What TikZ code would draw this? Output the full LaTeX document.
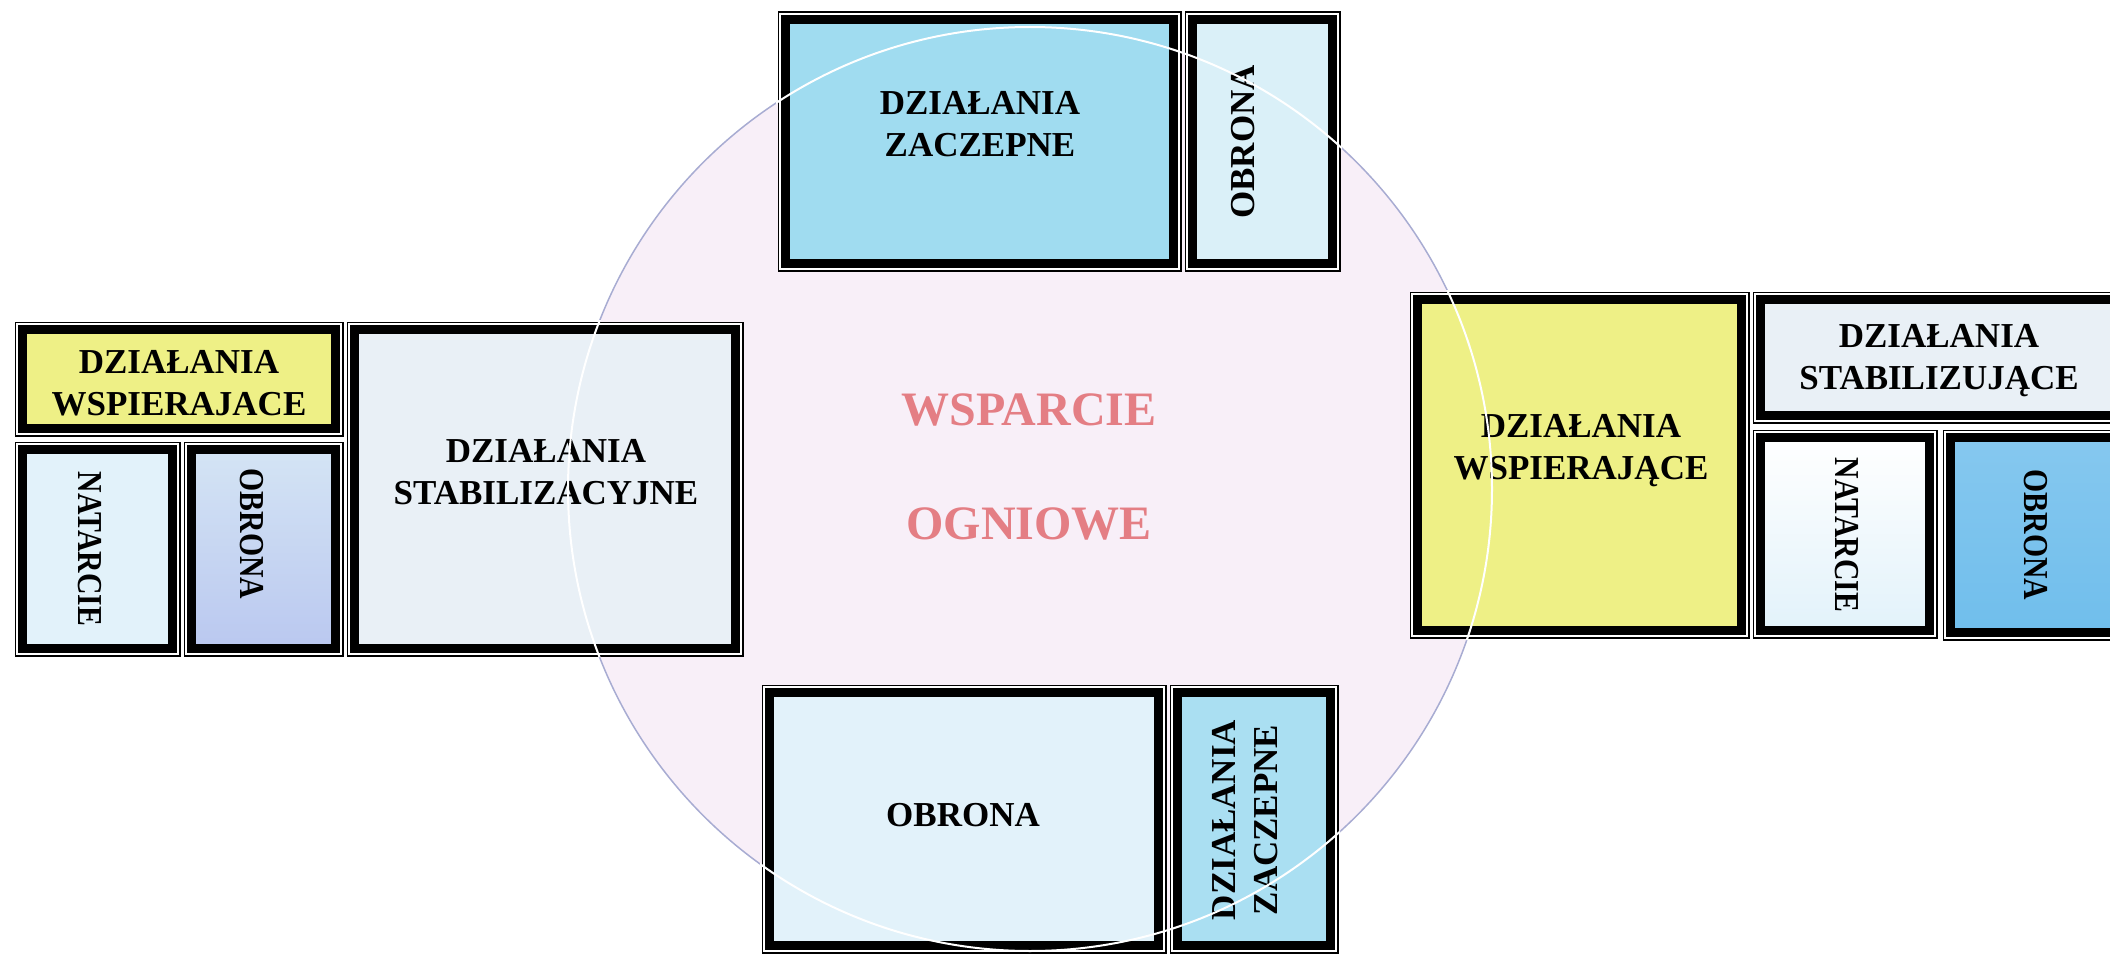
\documentclass[tikz,border=0pt]{standalone}
\usepackage{fontspec}
\setmainfont{Liberation Serif}

\definecolor{ringfill}{RGB}{248,239,248}
\definecolor{ringline}{RGB}{168,172,210}
\definecolor{firepink}{RGB}{228,126,132}
\definecolor{offcyan}{RGB}{160,220,240}
\definecolor{paleblue}{RGB}{226,242,250}
\definecolor{topblue}{RGB}{218,240,248}
\definecolor{supyellow}{RGB}{238,240,134}
\definecolor{stabgrey}{RGB}{233,240,246}
\definecolor{defblue}{RGB}{112,190,236}
\definecolor{lavtop}{RGB}{212,228,244}
\definecolor{lavbot}{RGB}{186,200,240}

\begin{document}
\begin{tikzpicture}[x=1pt, y=-1pt,
    boxline/.style={draw=black, line width=9pt,
        preaction={draw=black, line width=16pt},
        preaction={draw=white, line width=13pt}},
    boxtext/.style={font=\fontsize{35}{42}\selectfont\bfseries, align=center, inner sep=0pt},
    slimtext/.style={boxtext, rotate=-90},
    firetext/.style={font=\fontsize{48}{56}\selectfont\bfseries, text=firepink, inner sep=0pt}]

    \useasboundingbox (0,0) rectangle (2110,955);
    \clip (0,0) rectangle (2110,955);

    % Fire support circle
    \draw[fill=ringfill, draw=ringline, line width=1.5pt] (1030,489) circle[radius=462];

    % Top
    \draw[boxline, fill=offcyan] (785.5,19.5) rectangle (1173.5,263.5);
    \draw[boxline, fill=topblue] (1192.5,19.5) rectangle (1332.5,263.5);
    \node[boxtext] (zaczTop) at (980,124) {DZIAŁANIA\\ZACZEPNE};
    \node[boxtext, rotate=90] (obrTop) at (1243,142) {OBRONA};

    % Left
    \draw[boxline, fill=supyellow] (22.5,329.5) rectangle (335.5,428.5);
    \draw[boxline, fill=paleblue] (22.5,449.5) rectangle (172.5,648.5);
    \draw[boxline, top color=lavtop, bottom color=lavbot] (191.5,449.5) rectangle (335.5,648.5);
    \draw[boxline, fill=stabgrey] (354.5,329.5) rectangle (735.5,648.5);
    \node[boxtext] (wspLeft) at (179,383) {DZIAŁANIA\\WSPIERAJACE};
    \node[slimtext] (natLeft) at (90,549) {\scalebox{0.85}[1]{NATARCIE}};
    \node[slimtext] (obrLeft) at (252,534) {\scalebox{0.85}[1]{OBRONA}};
    \node[boxtext] (stabLeft) at (546,472) {DZIAŁANIA\\STABILIZACYJNE};

    % Right
    \draw[boxline, fill=supyellow] (1417.5,299.5) rectangle (1741.5,630.5);
    \draw[boxline, fill=stabgrey] (1760.5,299.5) rectangle (2117.5,415.5);
    \draw[boxline, top color=white, bottom color=paleblue] (1760.5,437.5) rectangle (1929.5,630.5);
    \draw[boxline, top color=defblue!85, bottom color=defblue] (1950.5,437.5) rectangle (2117.5,632.5);
    \node[boxtext] (wspRight) at (1581,451) {DZIAŁANIA\\WSPIERAJĄCE};
    \node[boxtext] (stabRight) at (1939,361) {DZIAŁANIA\\STABILIZUJĄCE};
    \node[slimtext] (natRight) at (1847,535) {\scalebox{0.85}[1]{NATARCIE}};
    \node[slimtext] (obrRight) at (2036,535) {\scalebox{0.85}[1]{OBRONA}};

    % Bottom
    \draw[boxline, fill=paleblue] (769.5,692.5) rectangle (1158.5,945.5);
    \draw[boxline, fill=offcyan!90] (1177.5,692.5) rectangle (1330.5,945.5);
    \node[boxtext] (obrBottom) at (963,815) {OBRONA};
    \node[boxtext, rotate=90] (zaczBottom) at (1245,820) {DZIAŁANIA\\ZACZEPNE};

    % Circle over the boxes
    \begin{scope}
        \clip (776,10) rectangle (1342,273) (760,683) rectangle (1340,955)
              (13,320) rectangle (744,657) (1408,290) rectangle (2110,640);
        \draw[white, line width=2pt] (1030,489) circle[radius=462];
    \end{scope}

    % Centre
    \node[firetext] (wsparcie) at (1029,410) {WSPARCIE};
    \node[firetext] (ogniowe) at (1029,524) {OGNIOWE};

\end{tikzpicture}
\end{document}
